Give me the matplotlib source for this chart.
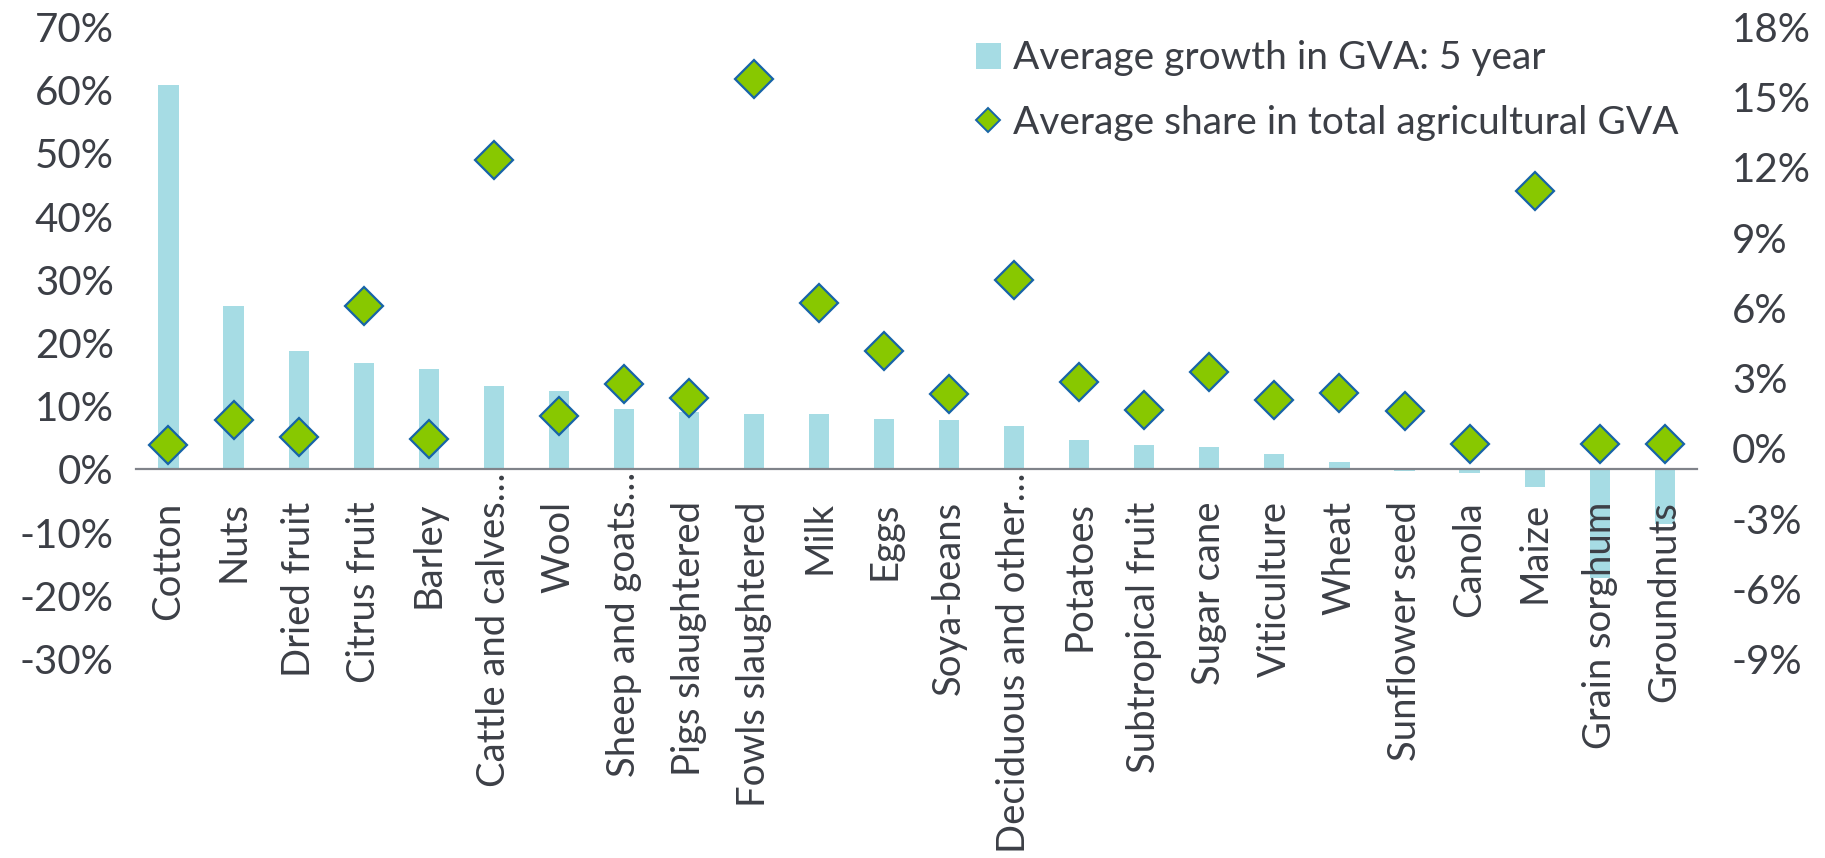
import matplotlib.pyplot as plt
from matplotlib.lines import Line2D
from matplotlib.ticker import FuncFormatter
from matplotlib.transforms import offset_copy
import numpy as np

categories = ['Cotton', 'Nuts', 'Dried fruit', 'Citrus fruit', 'Barley',
              'Cattle and calves…', 'Wool', 'Sheep and goats…', 'Pigs slaughtered',
              'Fowls slaughtered', 'Milk', 'Eggs', 'Soya-beans', 'Deciduous and other…',
              'Potatoes', 'Subtropical fruit', 'Sugar cane', 'Viticulture', 'Wheat',
              'Sunflower seed', 'Canola', 'Maize', 'Grain sorghum', 'Groundnuts']
# average growth in GVA over 5 years (left axis, %)
growth = [60.8, 25.9, 18.7, 16.9, 15.9, 13.2, 12.4, 9.5, 9.0, 8.8, 8.7, 7.9,
          7.8, 6.8, 4.6, 3.8, 3.5, 2.4, 1.2, -0.2, -0.6, -2.8, -17.2, -8.6]
# average share in total agricultural GVA (right axis, %)
share = [0.16, 1.2, 0.48, 6.1, 0.41, 12.3, 1.37, 2.76, 2.15, 15.8, 6.2, 4.15,
         2.32, 7.2, 2.85, 1.62, 3.25, 2.05, 2.36, 1.6, 0.2, 11.0, 0.17, 0.2]

bar_col = '#A6DCE4'
green = '#88C800'
edge_blue = '#1764A8'
txt = '#3C3F46'

plt.rcParams['font.family'] = ['Lato', 'DejaVu Sans']
fs = 29

fig = plt.figure(figsize=(18.25, 8.58), dpi=100)
ax = fig.add_axes([0.0745, 0.232, 0.8555, 0.7365])
x = np.arange(len(categories))
bars = ax.bar(x, growth, width=0.31, color=bar_col, zorder=1)
ax.set_xlim(-0.5, len(categories) - 0.5)
ax.set_ylim(-30, 70)
ax.set_yticks(np.arange(-30, 71, 10))
ax.yaxis.set_major_formatter(FuncFormatter(lambda v, p: '%d%%' % v))
ax.set_xticks(x)
ax.tick_params(axis='x', length=0, labelbottom=False)
ax.tick_params(axis='y', length=0, pad=16, labelsize=fs, labelcolor=txt)
for s in ['top', 'right', 'left']:
    ax.spines[s].set_visible(False)
ax.spines['bottom'].set_position(('data', 0))
ax.spines['bottom'].set_color('#80838A')
ax.spines['bottom'].set_linewidth(1.6)

# category labels hang from the zero line; truncated ones start right at it
for xi, name in zip(x, categories):
    off = 2 if name.endswith('…') else 23
    tr = offset_copy(ax.transData, fig=fig, y=-off, units='points')
    ax.text(xi, 0, name, transform=tr, rotation=90, ha='center', va='top',
            fontsize=27.5, color=txt, zorder=3)

ax2 = ax.twinx()
ax2.plot(x, share, linestyle='none', marker='D', ms=19.5, mfc=green,
         mec=edge_blue, mew=1.6, zorder=3)
ax2.set_ylim(-9, 18)
ax2.set_yticks(np.arange(-9, 19, 3))
ax2.yaxis.set_major_formatter(FuncFormatter(lambda v, p: '%d%%' % v))
ax2.tick_params(axis='y', length=0, pad=25, labelsize=fs, labelcolor=txt)
for s in ax2.spines.values():
    s.set_visible(False)

diamond = Line2D([], [], linestyle='none', marker='D', ms=12, mfc=green,
                 mec=edge_blue, mew=1.4)
leg = ax2.legend([bars, diamond],
                 ['Average growth in GVA: 5 year', 'Average share in total agricultural GVA'],
                 loc='upper left', bbox_to_anchor=(0.5348, 0.953),
                 bbox_transform=fig.transFigure, frameon=False, fontsize=28,
                 borderpad=0, borderaxespad=0, handlelength=0.64, handleheight=0.64,
                 handletextpad=0.3, labelspacing=0.73)
for t in leg.get_texts():
    t.set_color(txt)

fig.savefig('out.png', dpi=100)
